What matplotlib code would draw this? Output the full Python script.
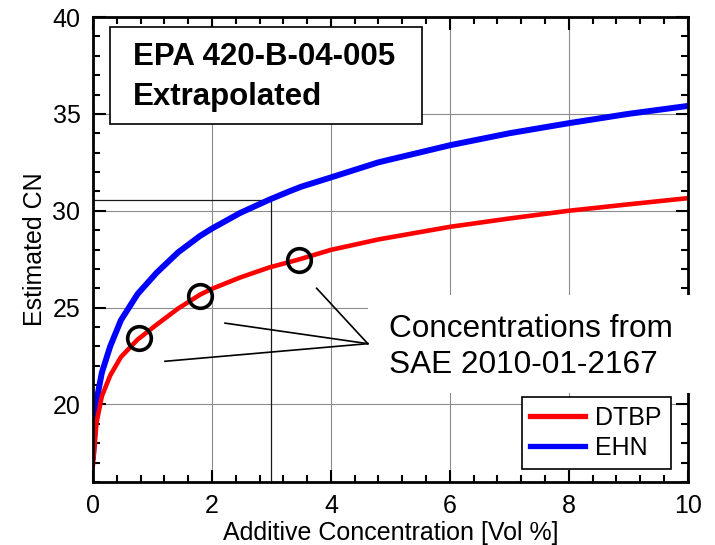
import matplotlib
matplotlib.use("Agg")
import matplotlib.pyplot as plt
from matplotlib.patches import Rectangle
from matplotlib.ticker import MultipleLocator

plt.rcParams['font.family'] = ['Liberation Sans', 'DejaVu Sans']

# data
conc = [0, 0.06, 0.15, 0.29, 0.47, 0.75, 1.07, 1.43, 1.8, 2.0, 2.47, 2.97,
        3.3, 3.5, 4.0, 4.8, 6.0, 7.0, 8.0, 9.0, 10.0]
dtbp = [16.9, 19.06, 20.43, 21.5, 22.45, 23.35, 24.12, 24.95, 25.67, 25.97,
        26.55, 27.08, 27.35, 27.52, 27.98, 28.52, 29.17, 29.6, 30.0, 30.33, 30.65]
ehn = [17.3, 20.2, 21.65, 23.0, 24.35, 25.7, 26.8, 27.85, 28.7, 29.08, 29.88,
       30.58, 31.0, 31.24, 31.72, 32.5, 33.38, 34.0, 34.52, 35.0, 35.41]

# SAE 2010-01-2167 concentrations (circled on the DTBP curve)
sae_x = [0.78, 1.8, 3.46]
sae_y = [23.45, 25.6, 27.47]

# reference crossing at 3 vol %
ref_x = 3.0
ref_y = 30.57

# leader lines from the note to the points
note_tip = (4.62, 23.14)
leader_starts = [(3.76, 26.0), (2.22, 24.2), (1.21, 22.23)]

fig = plt.figure(figsize=(7.15, 5.45), dpi=100)
ax = fig.add_axes([0.130, 0.1156, 0.832, 0.8532])

ax.plot(conc, ehn, color='#0000ff', lw=4.3, label='EHN', zorder=2,
        solid_joinstyle='round')
ax.plot(conc, dtbp, color='#ff0000', lw=3.3, label='DTBP', zorder=2.1,
        solid_joinstyle='round')
ax.plot(sae_x, sae_y, 'o', ms=17, mfc='none', mec='k', mew=2.6, zorder=3)

ax.plot([0, ref_x], [ref_y, ref_y], color='0.1', lw=0.9, zorder=1.8)
ax.plot([ref_x, ref_x], [16, ref_y], color='0.1', lw=0.9, zorder=1.8)

for sx, sy in leader_starts:
    ax.plot([sx, note_tip[0]], [sy, note_tip[1]], color='k', lw=1.2, zorder=4)

ax.set_xlim(0, 10)
ax.set_ylim(16, 40)
ax.xaxis.set_major_locator(MultipleLocator(2))
ax.xaxis.set_minor_locator(MultipleLocator(0.4))
ax.yaxis.set_major_locator(MultipleLocator(5))
ax.yaxis.set_minor_locator(MultipleLocator(1))
ax.tick_params(which='both', direction='in', top=True, right=True,
               labelsize=18, width=1.5, pad=9)
ax.tick_params(which='major', length=9)
ax.tick_params(which='minor', length=5)
ax.grid(True, which='major', color='0.55', lw=0.8)
for s in ax.spines.values():
    s.set_linewidth(2)

ax.set_xlabel('Additive Concentration [Vol %]', fontsize=18, labelpad=2)
ax.set_ylabel('Estimated CN', fontsize=18, labelpad=4)

# title box
ax.add_patch(Rectangle((0.0286, 0.770), 0.5244, 0.208, transform=ax.transAxes,
                       facecolor='white', edgecolor='k', lw=1.2, zorder=4))
ax.text(0.067, 0.897, 'EPA 420-B-04-005', transform=ax.transAxes,
        fontsize=22.5, fontweight='bold', va='baseline', zorder=5)
ax.text(0.067, 0.811, 'Extrapolated', transform=ax.transAxes,
        fontsize=22.5, fontweight='bold', va='baseline', zorder=5)

# note with white background
ax.add_patch(Rectangle((0.462, 0.191), 0.56, 0.211, transform=ax.transAxes,
                       facecolor='white', edgecolor='none', zorder=3.5,
                       clip_on=False))
ax.text(0.497, 0.312, 'Concentrations from', transform=ax.transAxes,
        fontsize=22.7, va='baseline', zorder=5)
ax.text(0.497, 0.234, 'SAE 2010-01-2167', transform=ax.transAxes,
        fontsize=22.7, va='baseline', zorder=5)

handles, labels = ax.get_legend_handles_labels()
leg = ax.legend(handles[::-1], labels[::-1], loc='lower right',
                bbox_to_anchor=(0.971, 0.028), borderaxespad=0, fontsize=18,
                fancybox=False, framealpha=1, edgecolor='k', handlelength=2.2,
                handletextpad=0.4, labelspacing=0.25, borderpad=0.35)
leg.get_frame().set_linewidth(1.2)
for line in leg.get_lines():
    line.set_linewidth(3.8)
leg.set_zorder(6)

fig.savefig('out.png', dpi=100)
